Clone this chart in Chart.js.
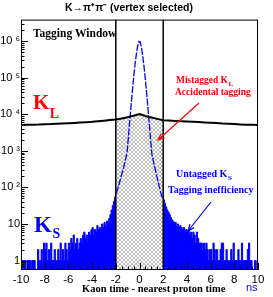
<!DOCTYPE html>
<html>
<head>
<meta charset="utf-8">
<script src="https://cdn.jsdelivr.net/npm/chart.js@4.4.0/dist/chart.umd.min.js"></script>
<style>
  html, body { margin: 0; padding: 0; background: #fff; }
</style>
</head>
<body>
<canvas id="myChart" width="273" height="297"></canvas>
<script>
// K_S counts per 0.1 ns bin, from -10 to 10 ns
var tMin = -10, tMax = 10, binWidth = 0.1;
var ksCounts = [
  1, 1, 1, 1, 0, 1, 1, 1, 0, 1,            // -10 .. -9
  1, 1, 0, 0, 2, 1, 1, 2, 1, 3,            // -9 .. -8
  2, 3, 1, 2, 1, 3, 1, 1, 2, 1,            // -8 .. -7
  1, 2, 1, 3, 1, 2, 1, 3, 2, 1,            // -7 .. -6
  3, 2, 4, 3, 5, 2, 3, 4, 2, 3,            // -6 .. -5
  4, 3, 5, 6, 4, 5, 3, 6, 5, 7,            // -5 .. -4
  8, 5, 7, 6, 9, 7, 8, 6, 10, 8,           // -4 .. -3
  11, 9, 12, 10, 14, 18, 24, 32, 42, 55,   // -3 .. -2
  68, 90, 115, 150, 200, 260, 340, 460, 640, 900,                          // -2 .. -1
  2100, 5400, 12000, 29000, 64000, 140000, 270000, 480000, 750000, 980000, // -1 .. 0
  960000, 720000, 450000, 250000, 125000, 58000, 26000, 10500, 4500, 1800, // 0 .. 1
  800, 560, 400, 290, 210, 150, 110, 82, 62, 50,                           // 1 .. 2
  46, 37, 29, 24, 21, 18, 15, 13, 12, 11,  // 2 .. 3
  11, 9, 10, 8, 9, 8, 7, 8, 6, 7,          // 3 .. 4
  6, 7, 5, 6, 4, 6, 5, 3, 6, 4,            // 4 .. 5
  3, 3, 3, 2, 3, 2, 3, 2, 1, 2,            // 5 .. 6
  2, 1, 3, 2, 1, 2, 1, 1, 2, 3,            // 6 .. 7
  3, 1, 1, 2, 1, 1, 1, 2, 1, 3,            // 7 .. 8
  1, 1, 1, 2, 1, 1, 3, 1, 1, 1,            // 8 .. 9
  1, 2, 3, 1, 1, 0, 0, 1, 0, 1             // 9 .. 10
];

// K_L curve
var klTimes = [-10, -9.5, -9, -8.5, -8, -7.5, -7, -6.5, -6, -5.5, -5, -4.5, -4, -3.5, -3, -2.5, -2, -1.5, -1, -0.5,
  0, 0.5, 1, 1.5, 2, 2.5, 3, 3.5, 4, 4.5, 5, 5.5, 6, 6.5, 7, 7.5, 8, 8.5, 9, 9.5, 10];
var klCounts = [5100, 5150, 5200, 5250, 5350, 5400, 5500, 5600, 5700, 5800, 5950, 6100, 6250, 6500, 6700, 6950, 7200, 7700, 8300, 9100,
  10200, 9000, 8200, 7500, 6900, 6750, 6600, 6450, 6350, 6250, 6150, 6000, 5900, 5750, 5600, 5500, 5400, 5300, 5200, 5150, 5100];

var windowEdges = [-2, 2];
var yMin = 0.55, yMax = 3.9e6;
var yTicks = [1, 10, 100, 1000, 10000, 100000, 1000000];
var yTickLabels = ["1", "10", "10 \u00b2", "10 \u00b3", "10 \u2074", "10 \u2075", "10 \u2076"];

var chartTitle = "K\u2192\u03c0\u207a\u03c0\u207b (vertex selected)";
var xTitle = "Kaon time - nearest proton time";

var blue = "#0000ff", red = "#ff0000";
var serif = '"Liberation Serif", "Times New Roman", serif';
var sans = '"Liberation Sans", Arial, sans-serif';

// split K_S into filled outside window and line inside window
var ksLeft = [], ksRight = [], ksMid = [];
for (var i = 0; i < ksCounts.length; i++) {
  var lo = tMin + i * binWidth;
  var c = ksCounts[i] > 0 ? ksCounts[i] : yMin;
  if (lo < windowEdges[0] - 1e-9) ksLeft.push({x: lo, y: c});
  else if (lo > windowEdges[1] - 1e-9) ksRight.push({x: lo, y: c});
  else ksMid.push({x: lo + binWidth / 2, y: ksCounts[i]});
}
ksLeft.push({x: windowEdges[0], y: ksLeft[ksLeft.length - 1].y});
ksRight.push({x: tMax, y: ksRight[ksRight.length - 1].y});

var klLine = [], klWindow = [];
for (var j = 0; j < klTimes.length; j++) {
  klLine.push({x: klTimes[j], y: klCounts[j]});
  if (klTimes[j] >= windowEdges[0] && klTimes[j] <= windowEdges[1]) klWindow.push({x: klTimes[j], y: klCounts[j]});
}

// cross hatch
var tile = document.createElement("canvas");
tile.width = 4; tile.height = 4;
var tc = tile.getContext("2d");
tc.strokeStyle = "#a0a0a0";
tc.lineWidth = 0.7;
tc.beginPath();
tc.moveTo(0, 0); tc.lineTo(4, 4);
tc.moveTo(0, 4); tc.lineTo(4, 0);
tc.stroke();
var hatch = tc.createPattern(tile, "repeat");

function edgeLine(t) {
  return {
    data: [{x: t, y: yMin}, {x: t, y: yMax}],
    borderColor: "#000", borderWidth: 1.5, pointRadius: 0, fill: false, order: 2
  };
}

function subText(ctx, main, sub, x, y, size, subSize, drop, color) {
  ctx.fillStyle = color;
  ctx.font = "bold " + size + "px " + serif;
  ctx.fillText(main, x, y);
  var w = ctx.measureText(main).width;
  ctx.font = "bold " + subSize + "px " + serif;
  ctx.fillText(sub, x + w + 0.5, y + drop);
}

function arrow(ctx, x1, y1, x2, y2, color) {
  var ang = Math.atan2(y2 - y1, x2 - x1), L = 7, s = 0.4;
  ctx.strokeStyle = color;
  ctx.lineWidth = 1.2;
  ctx.beginPath();
  ctx.moveTo(x1, y1); ctx.lineTo(x2, y2);
  ctx.moveTo(x2 - L * Math.cos(ang - s), y2 - L * Math.sin(ang - s));
  ctx.lineTo(x2, y2);
  ctx.lineTo(x2 - L * Math.cos(ang + s), y2 - L * Math.sin(ang + s));
  ctx.stroke();
}

var furniture = {
  id: "furniture",
  afterDatasetsDraw: function (chart) {
    var ctx = chart.ctx, a = chart.chartArea, xs = chart.scales.x, ys = chart.scales.y;
    ctx.save();
    ctx.strokeStyle = "#000";
    ctx.lineWidth = 1;
    ctx.strokeRect(a.left + 0.5, a.top + 0.5, a.right - a.left - 1, a.bottom - a.top - 1);

    ctx.beginPath();
    for (var d = -1; d <= 6; d++) {
      for (var m = 1; m <= 9; m++) {
        var v = m * Math.pow(10, d);
        if (v < ys.min || v > ys.max) continue;
        var py = Math.round(ys.getPixelForValue(v)) + 0.5;
        ctx.moveTo(a.left, py);
        ctx.lineTo(a.left + (m === 1 ? 7 : 3.5), py);
      }
    }
    for (var k = 0; k <= 40; k++) {
      var t = tMin + k * 0.5;
      var px = Math.round(xs.getPixelForValue(t)) + 0.5;
      ctx.moveTo(px, a.bottom);
      ctx.lineTo(px, a.bottom - (k % 4 === 0 ? 7 : 3.5));
    }
    ctx.stroke();

    ctx.textBaseline = "alphabetic";
    ctx.textAlign = "left";
    ctx.fillStyle = "#000";
    ctx.font = "bold 11.5px " + serif;
    ctx.fillText("Tagging Window", 33, 37);

    subText(ctx, "K", "L", 33, 109, 21, 14, 8.5, red);
    subText(ctx, "K", "S", 34, 231.5, 23, 14, 6.5, blue);

    subText(ctx, "Mistagged K", "L", 176, 83, 9.5, 7, 2.5, red);
    ctx.font = "bold 9.5px " + serif;
    ctx.fillText("Accidental tagging", 175, 95);

    subText(ctx, "Untagged K", "S", 176, 177, 10, 7, 2.5, blue);
    ctx.font = "bold 10px " + serif;
    ctx.fillText("Tagging inefficiency", 168, 193);

    arrow(ctx, 199, 103, 158, 140, red);
    arrow(ctx, 211, 202, 188, 231, blue);

    ctx.fillStyle = "#000";
    ctx.font = "bold 10.5px " + serif;
    ctx.fillText(xTitle, 82, 292);
    ctx.fillStyle = blue;
    ctx.font = "11px " + sans;
    ctx.fillText("ns", 246, 291);
    ctx.restore();
  }
};

new Chart("myChart", {
  type: "line",
  data: {
    datasets: [
      {
        data: klWindow, backgroundColor: hatch, borderWidth: 0, pointRadius: 0,
        fill: "start", order: 6
      },
      {
        data: ksLeft, stepped: "before", backgroundColor: blue, borderColor: blue, borderWidth: 1,
        pointRadius: 0, fill: "start", order: 5
      },
      {
        data: ksRight, stepped: "before", backgroundColor: blue, borderColor: blue, borderWidth: 1,
        pointRadius: 0, fill: "start", order: 5
      },
      {
        data: ksMid, borderColor: blue, borderWidth: 1.3, borderDash: [7, 1.5], pointRadius: 0,
        fill: false, order: 4
      },
      edgeLine(windowEdges[0]),
      edgeLine(windowEdges[1]),
      {
        data: klLine, borderColor: "#000", borderWidth: 2, pointRadius: 0, fill: false, order: 1
      }
    ]
  },
  options: {
    responsive: false,
    animation: false,
    layout: { padding: { left: 0, right: 15, top: 0, bottom: 0 } },
    plugins: {
      legend: { display: false },
      tooltip: { enabled: false },
      title: {
        display: true,
        text: chartTitle,
        color: "#000",
        font: { family: sans, size: 10.5, weight: "bold" },
        padding: { top: 2, bottom: 5 }
      }
    },
    scales: {
      x: {
        type: "linear", min: tMin, max: tMax,
        grid: { display: false, drawTicks: false },
        border: { display: false },
        ticks: { stepSize: 2, autoSkip: false, maxRotation: 0, padding: 3, color: "#000",
                 font: { family: sans, size: 11.5 } },
        afterFit: function (s) { s.height = 27; }
      },
      y: {
        type: "logarithmic", min: yMin, max: yMax,
        grid: { display: false, drawTicks: false },
        border: { display: false },
        afterBuildTicks: function (s) { s.ticks = yTicks.map(function (v) { return {value: v}; }); },
        ticks: { autoSkip: false, padding: 1, color: "#000", font: { family: sans, size: 11 },
                 callback: function (value) { return yTickLabels[yTicks.indexOf(value)]; } },
        afterFit: function (s) { s.width = 21; }
      }
    }
  },
  plugins: [furniture]
});
</script>
</body>
</html>
